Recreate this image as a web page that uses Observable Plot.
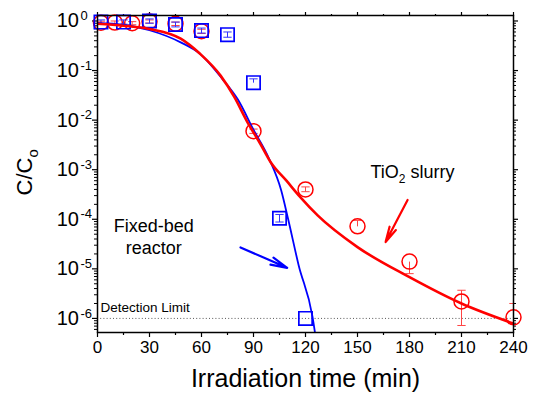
<!DOCTYPE html>
<html><head><meta charset="utf-8">
<script src="https://cdn.jsdelivr.net/npm/d3@7"></script>
<script src="https://cdn.jsdelivr.net/npm/@observablehq/plot@0.6"></script>
<style>body{margin:0;background:#fff}</style>
</head><body><div id="chart"></div>
<script>
// ---- tick labels ----
const xTicks = [0, 30, 60, 90, 120, 150, 180, 210, 240];
const xMinorTicks = [15, 45, 75, 105, 135, 165, 195, 225];
const yExponents = [0, -1, -2, -3, -4, -5, -6];
const yDomain = [5.2e-7, 1.29];

// ---- TiO2 slurry (red circles) ----
const slurryTime = [2, 10, 20, 30, 45, 60, 90, 120, 150, 180, 210, 240];
const slurryValue = [0.92, 0.93, 0.90, 0.98, 0.88, 0.62, 6.0e-3, 4.0e-4, 7.2e-5, 1.4e-5, 2.2e-6, 1.05e-6];
const slurryHigh = [0.99, 1.0, 0.97, 1.05, 0.95, 0.68, 6.6e-3, 4.5e-4, 9.5e-5, 1.4e-5, 3.7e-6, 2.0e-6];
const slurryLow = [0.86, 0.87, 0.84, 0.91, 0.81, 0.56, 5.4e-3, 3.6e-4, 7.2e-5, 8.0e-6, 7.2e-7, 3.0e-7];

// ---- Fixed-bed reactor (blue squares) ----
const bedTime = [2, 15, 30, 45, 60, 75, 90, 105, 120];
const bedValue = [0.95, 0.95, 1.0, 0.85, 0.64, 0.53, 0.057, 1.05e-4, 1.0e-6];
const bedHigh = [1.05, 1.05, 1.1, 0.95, 0.72, 0.60, 0.068, 1.25e-4, 1.0e-6];
const bedLow = [0.86, 0.86, 0.9, 0.76, 0.57, 0.47, 0.057, 0.88e-4, 1.0e-6];

// ---- fitted curves ----
const slurryFitTime = [0, 15, 30, 48, 59, 71, 79, 86, 94, 100, 109, 117, 127, 150, 180, 210, 240];
const slurryFitValue = [0.88, 0.80, 0.69, 0.44, 0.22, 0.079, 0.029, 0.0098, 0.0033, 0.0014, 6.0e-4, 2.8e-4, 1.2e-4, 2.75e-5, 6.8e-6, 2.0e-6, 7.9e-7];
const bedFitTime = [0, 15, 30, 48, 59, 72, 81, 90, 99, 106, 110, 116, 124, 127];
const bedFitValue = [0.92, 0.84, 0.65, 0.37, 0.22, 0.068, 0.026, 6.4e-3, 1.66e-3, 3.8e-4, 1.0e-4, 1.2e-5, 1.1e-6, 2.2e-7];

// ---- annotations ----
const detectionLimit = 1e-6;
const labels = [
  {text: "TiO2 slurry", t: 181.7, v: 8.7e-4, anchor: "middle"},
  {text: "Fixed-bed", t: 32.5, v: 7.2e-5, anchor: "start"},
  {text: "reactor", t: 32.5, v: 2.64e-5, anchor: "start"}
];
const arrows = [
  {t1: 178.9, v1: 2.45e-4, t2: 166.2, v2: 3.47e-5, color: "#ff0000"},
  {t1: 82.5, v1: 2.7e-5, t2: 109.4, v2: 1.05e-5, color: "#0000ff"}
];

const zip = (t, v, hi, lo) => t.map((x, i) => ({t: x, v: v[i], hi: hi ? hi[i] : null, lo: lo ? lo[i] : null}));
const slurry = zip(slurryTime, slurryValue, slurryHigh, slurryLow);
const bed = zip(bedTime, bedValue, bedHigh, bedLow);
const slurryFit = zip(slurryFitTime, slurryFitValue);
const bedFit = zip(bedFitTime, bedFitValue);

const yMinorTicks = [];
for (let k = -7; k <= 0; k++) for (let m = 2; m <= 9; m++) {
  const v = m * Math.pow(10, k);
  if (v >= yDomain[0] && v <= yDomain[1]) yMinorTicks.push(v);
}
const yMajorTicks = yExponents.map(e => Math.pow(10, e));
const empty = () => "";
const capHalf = 2.4;

const errMarks = (data, color) => [
  Plot.link(data.filter(d => d.hi !== d.lo), {x1: "t", x2: "t", y1: "lo", y2: "hi", stroke: color, strokeWidth: 1, clip: true}),
  Plot.link(data.filter(d => d.hi !== d.v), {x1: d => d.t - capHalf, x2: d => d.t + capHalf, y1: "hi", y2: "hi", stroke: color, strokeWidth: 1, clip: true}),
  Plot.link(data.filter(d => d.lo !== d.v), {x1: d => d.t - capHalf, x2: d => d.t + capHalf, y1: "lo", y2: "lo", stroke: color, strokeWidth: 1, clip: true})
];

const plot = Plot.plot({
  width: 537,
  height: 403,
  marginLeft: 97,
  marginRight: 24,
  marginTop: 15,
  marginBottom: 71,
  style: {fontFamily: "'Liberation Sans', Arial, sans-serif", background: "#fff", color: "#000"},
  x: {domain: [0, 240], axis: null},
  y: {type: "log", domain: yDomain, axis: null},
  marks: [
    // axes ticks
    Plot.axisX({ticks: xTicks, tickSize: 5, tickFormat: empty, label: null, strokeWidth: 1.2}),
    Plot.axisX({ticks: xMinorTicks, tickSize: 3, tickFormat: empty, label: null, strokeWidth: 1.2}),
    Plot.axisX({anchor: "top", ticks: xTicks, tickSize: 4, tickFormat: empty, label: null, strokeWidth: 1.2}),
    Plot.axisX({anchor: "top", ticks: xMinorTicks, tickSize: 2, tickFormat: empty, label: null, strokeWidth: 1.2}),
    Plot.axisY({ticks: yMajorTicks, tickSize: 5, tickFormat: empty, label: null, strokeWidth: 1.2}),
    Plot.axisY({ticks: yMinorTicks, tickSize: 3, tickFormat: empty, label: null, strokeWidth: 1}),
    Plot.axisY({anchor: "right", ticks: yMajorTicks, tickSize: 4, tickFormat: empty, label: null, strokeWidth: 1.2}),
    Plot.axisY({anchor: "right", ticks: yMinorTicks, tickSize: 2, tickFormat: empty, label: null, strokeWidth: 1}),
    // tick labels
    Plot.text(xTicks, {x: d => d, frameAnchor: "bottom", dy: 20, text: d => String(d), fontSize: 17}),
    Plot.text(yMajorTicks, {y: d => d, frameAnchor: "left", dx: -18.5, text: () => "10", textAnchor: "end", fontSize: 20}),
    Plot.text(yExponents, {y: d => Math.pow(10, d), frameAnchor: "left", dx: -17, dy: -5, text: d => String(d), textAnchor: "start", fontSize: 13}),
    // axis titles
    Plot.text(["Irradiation time (min)"], {frameAnchor: "bottom", dy: 54, fontSize: 25, text: d => d}),
    Plot.text(["C/Co"], {frameAnchor: "left", dx: -72.3, dy: 21.5, rotate: -90, fontSize: 22, text: d => d}),
    // detection limit
    Plot.ruleY([detectionLimit], {stroke: "#444", strokeWidth: 0.9, strokeDasharray: "1,2.2"}),
    Plot.text([detectionLimit], {x: 0, y: d => d, dx: 3, dy: -11, text: () => "Detection Limit", textAnchor: "start", fontSize: 13.5}),
    // data
    ...errMarks(slurry, "#ff4444"),
    Plot.dot(slurry, {x: "t", y: "v", r: 7.5, stroke: "#ff0000", strokeWidth: 1.5, fill: "none"}),
    ...errMarks(bed, "#3333ff"),
    Plot.dot(bed, {x: "t", y: "v", r: 7.5, symbol: "square", stroke: "#0000ff", strokeWidth: 1.7, fill: "none"}),
    // fits
    Plot.line(bedFit, {x: "t", y: "v", stroke: "#0000ff", strokeWidth: 1.8, curve: "monotone-x", clip: true}),
    Plot.line(slurryFit, {x: "t", y: "v", stroke: "#ff0000", strokeWidth: 2.6, curve: "monotone-x", clip: true}),
    // annotations
    Plot.text(labels, {x: "t", y: "v", text: "text", textAnchor: "anchor", fontSize: 18}),
    Plot.arrow(arrows, {x1: "t1", y1: "v1", x2: "t2", y2: "v2", stroke: "color", strokeWidth: 2.2, headLength: 12, headAngle: 26, strokeLinejoin: "miter"}),
    Plot.frame({stroke: "#000", strokeWidth: 1.5})
  ]
});
document.getElementById("chart").appendChild(plot);

// sub/superscript formatting
d3.select(plot).selectAll("text").each(function () {
  const t = this.textContent;
  const sel = d3.select(this);
  if (t === "TiO2 slurry") {
    sel.text(null);
    sel.append("tspan").text("TiO");
    sel.append("tspan").attr("font-size", 12).attr("dy", 5).text("2");
    sel.append("tspan").attr("dy", -5).text(" slurry");
  } else if (t === "C/Co") {
    sel.text(null);
    sel.append("tspan").text("C/C");
    sel.append("tspan").attr("font-size", 15).attr("dy", 6).text("o");
  }
});
</script>
</body></html>
